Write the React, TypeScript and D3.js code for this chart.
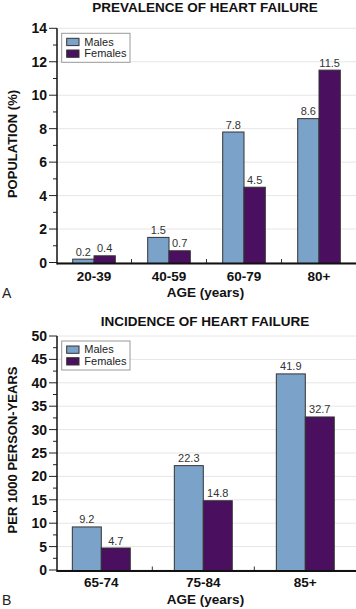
import React from "react";
import * as d3 from "d3";

const seriesNames = ["Males", "Females"];
const seriesColors = ["#7ba3c9", "#4a0f5e"];

const prevCategories = ["20-39", "40-59", "60-79", "80+"];
const prevMales = [0.2, 1.5, 7.8, 8.6];
const prevFemales = [0.4, 0.7, 4.5, 11.5];
const prevTicks = [0, 2, 4, 6, 8, 10, 12, 14];

const incCategories = ["65-74", "75-84", "85+"];
const incMales = [9.2, 22.3, 41.9];
const incFemales = [4.7, 14.8, 32.7];
const incTicks = [0, 5, 10, 15, 20, 25, 30, 35, 40, 45, 50];

const FONT = "'Liberation Sans', Arial, Helvetica, sans-serif";

type PanelProps = {
  title: string;
  titleY: number;
  yLabel: string;
  yLabelCenter: number;
  letter: string;
  categories: string[];
  males: number[];
  females: number[];
  ticks: number[];
  yMax: number;
  yTop: number;
  yZero: number;
  xLeft: number;
  xRight: number;
  axisX: number;
  legendY: number;
  catLabelY: number;
  ageLabelY: number;
};

function Panel(p: PanelProps) {
  const y = d3.scaleLinear().domain([0, p.yMax]).range([p.yZero, p.yTop]);
  const x = d3.scaleBand<string>().domain(p.categories).range([p.xLeft, p.xRight]);
  const bw = x.bandwidth() * 0.284;
  const step = p.ticks[1] - p.ticks[0];
  const minor = p.ticks.slice(0, -1).map((t) => t + step / 2);
  const axisY = p.yZero + 1;
  const series = [p.males, p.females];
  const lx = 61.7;
  const ly = p.legendY;
  return (
    <g>
      <text x={205} y={p.titleY} textAnchor="middle" fontFamily={FONT} fontWeight="bold" fontSize={13.5} fill="#111">
        {p.title}
      </text>
      {p.ticks.map((t) => (
        <line key={"g" + t} x1={p.axisX} x2={356} y1={y(t)} y2={y(t)} stroke="#e6e6e6" strokeWidth={1} />
      ))}
      {p.ticks.map((t) => (
        <g key={"t" + t}>
          <line x1={p.axisX - 8} x2={p.axisX} y1={y(t)} y2={y(t)} stroke="#222" strokeWidth={1} />
          <text x={p.axisX - 10} y={y(t) + 5} textAnchor="end" fontFamily={FONT} fontWeight="bold" fontSize={14} fill="#111">
            {t}
          </text>
        </g>
      ))}
      {minor.map((t) => (
        <line key={"m" + t} x1={p.axisX - 4} x2={p.axisX} y1={y(t)} y2={y(t)} stroke="#222" strokeWidth={1} />
      ))}
      {p.categories.map((c, i) =>
        series.map((s, j) => {
          const cx = (x(c) as number) + x.bandwidth() / 2;
          const bx = cx - bw + j * bw;
          return (
            <g key={c + j}>
              <rect x={bx} y={y(s[i])} width={bw} height={axisY - y(s[i])} fill={seriesColors[j]} stroke="#333" strokeWidth={1} />
              <text x={bx + bw / 2} y={y(s[i]) - 3.5} textAnchor="middle" fontFamily={FONT} fontSize={11} fill="#333">
                {s[i]}
              </text>
            </g>
          );
        })
      )}
      {p.categories.slice(1).map((c) => (
        <line key={"xt" + c} x1={x(c) as number} x2={x(c) as number} y1={axisY - 4.5} y2={axisY} stroke="#333" strokeWidth={1} />
      ))}
      <line x1={p.axisX} x2={p.axisX} y1={p.yTop} y2={axisY + 1} stroke="#111" strokeWidth={1.5} />
      <line x1={p.axisX} x2={356} y1={axisY} y2={axisY} stroke="#111" strokeWidth={2} />
      {p.categories.map((c) => (
        <text key={"cl" + c} x={(x(c) as number) + x.bandwidth() / 2} y={p.catLabelY} textAnchor="middle" fontFamily={FONT} fontWeight="bold" fontSize={13.5} fill="#111">
          {c}
        </text>
      ))}
      <text x={205.5} y={p.ageLabelY} textAnchor="middle" fontFamily={FONT} fontWeight="bold" fontSize={13.5} fill="#111">
        AGE (years)
      </text>
      <text x={2} y={p.ageLabelY + 1} fontFamily={FONT} fontSize={14} fill="#222">
        {p.letter}
      </text>
      <text
        transform={`translate(17,${p.yLabelCenter}) rotate(-90)`}
        textAnchor="middle"
        fontFamily={FONT}
        fontWeight="bold"
        fontSize={13}
        fill="#111"
      >
        {p.yLabel}
      </text>
      <rect x={lx} y={ly} width={68.3} height={29} fill="#fff" stroke="#999" strokeWidth={1} />
      {seriesNames.map((n, j) => (
        <g key={n}>
          <rect x={lx + 5} y={ly + 5 + j * 11.7} width={12.3} height={7.3} fill={seriesColors[j]} stroke="#333" strokeWidth={1} />
          <text x={lx + 22.6} y={ly + 12.3 + j * 11.7} fontFamily={FONT} fontSize={11} fill="#222">
            {n}
          </text>
        </g>
      ))}
    </g>
  );
}

export default function App() {
  return (
    <svg width={356} height={609} style={{ position: "absolute", left: 0, top: 0, background: "#fff" }}>
      <rect width={356} height={609} fill="#fff" />
      <Panel
        title="PREVALENCE OF HEART FAILURE"
        titleY={11.7}
        yLabel="POPULATION (%)"
        yLabelCenter={144}
        letter="A"
        categories={prevCategories}
        males={prevMales}
        females={prevFemales}
        ticks={prevTicks}
        yMax={14}
        yTop={28.3}
        yZero={262.5}
        xLeft={56.5}
        xRight={356.5}
        axisX={57}
        legendY={33.3}
        catLabelY={281}
        ageLabelY={296.5}
      />
      <Panel
        title="INCIDENCE OF HEART FAILURE"
        titleY={326}
        yLabel="PER 1000 PERSON-YEARS"
        yLabelCenter={450}
        letter="B"
        categories={incCategories}
        males={incMales}
        females={incFemales}
        ticks={incTicks}
        yMax={50}
        yTop={336}
        yZero={570}
        xLeft={50.3}
        xRight={356.3}
        axisX={57}
        legendY={341}
        catLabelY={587}
        ageLabelY={604}
      />
    </svg>
  );
}
